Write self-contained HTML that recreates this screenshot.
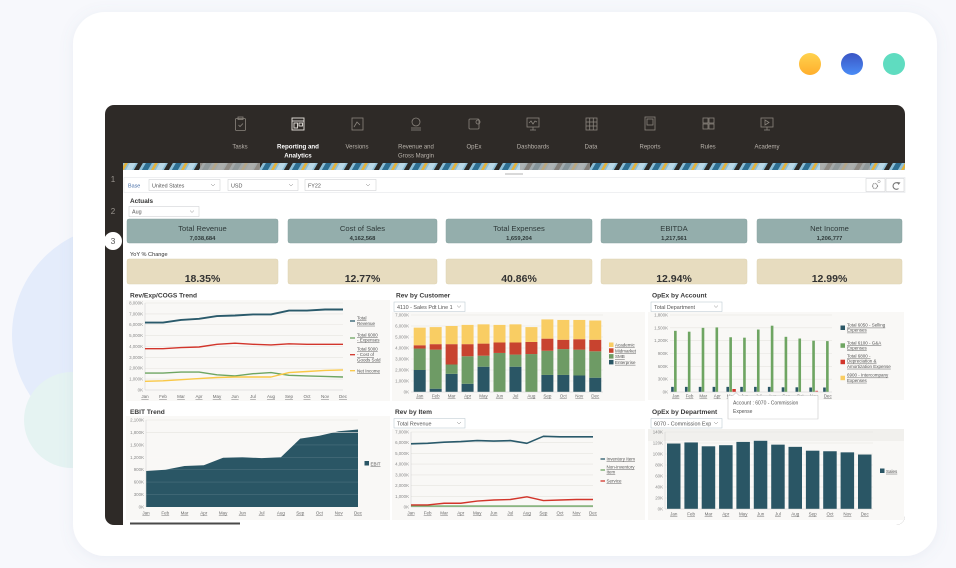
<!DOCTYPE html>
<html><head><meta charset="utf-8"><style>
html,body{margin:0;padding:0;background:#f7f8fc;width:956px;height:568px;overflow:hidden}
svg{display:block;font-family:"Liberation Sans",sans-serif}
.nav{font-size:6px;fill:#b9b3ac;text-anchor:middle}
.navb{font-size:6.2px;fill:#ffffff;font-weight:bold;text-anchor:middle}
.ax{font-size:4.4px;fill:#8a8a8a;text-anchor:end}
.mx{font-size:4.5px;fill:#6a6a6a;text-anchor:middle;text-decoration:underline}
.lg{font-size:4.5px;fill:#555;text-decoration:underline}
.ttl{font-size:6.6px;fill:#3a3a3a;font-weight:bold}
.kt{font-size:7.6px;fill:#2f3a3a;text-anchor:middle}
.kv{font-size:5.8px;fill:#2f3a3a;text-anchor:middle;font-weight:bold}
.kp{font-size:10.5px;fill:#333;text-anchor:middle;font-weight:bold}
.sel{font-size:5.4px;fill:#555}
.grid line{stroke:#e6e4e0;stroke-width:0.6}
</style></head><body>
<svg width="956" height="568" viewBox="0 0 956 568" xmlns="http://www.w3.org/2000/svg">
<defs>
<filter id="sh" x="-10%" y="-10%" width="120%" height="120%"><feDropShadow dx="0" dy="2" stdDeviation="7" flood-color="#7080a8" flood-opacity="0.10"/></filter>
<clipPath id="win"><rect x="105" y="105" width="800" height="420" rx="9"/></clipPath>
<pattern id="strip" width="30" height="8" patternUnits="userSpaceOnUse" patternTransform="skewX(-30)">
<rect width="30" height="8" fill="#8fbfd6"/>
<rect x="0" width="6" height="8" fill="#2f6f92"/>
<rect x="9" width="3" height="8" fill="#e3b23c"/>
<rect x="14" width="6" height="8" fill="#b9d8e6"/>
<rect x="22" width="5" height="8" fill="#2d2a27"/>
</pattern>
<linearGradient id="gy" x1="0" y1="0" x2="0" y2="1"><stop offset="0" stop-color="#ffd24e"/><stop offset="1" stop-color="#ffae2c"/></linearGradient>
<linearGradient id="gb" x1="0" y1="0" x2="0" y2="1"><stop offset="0" stop-color="#3a55c4"/><stop offset="1" stop-color="#4a8cf6"/></linearGradient>
</defs>

<rect width="956" height="568" fill="#f7f8fc"/>
<circle cx="122" cy="335" r="110" fill="#e4ecfb"/>
<circle cx="72" cy="420" r="48" fill="#e5f3f2"/>
<rect x="73" y="12" width="864" height="544" rx="32" fill="#ffffff" filter="url(#sh)"/>

<circle cx="810" cy="64" r="11" fill="url(#gy)"/>
<circle cx="852" cy="64" r="11" fill="url(#gb)"/>
<circle cx="894" cy="64" r="11" fill="#5fdcc0"/>

<g clip-path="url(#win)">
<rect x="105" y="105" width="800" height="420" fill="#2e2a27"/>
<rect x="123" y="163" width="782" height="7" fill="url(#strip)"/>
<rect x="200" y="163" width="60" height="7" fill="#a9a49e" opacity="0.8"/>
<rect x="520" y="163" width="70" height="7" fill="#a9a49e" opacity="0.7"/>
<rect x="820" y="163" width="50" height="7" fill="#a9a49e" opacity="0.8"/>
<rect x="123" y="170" width="782" height="355" fill="#ffffff"/>
</g>

<!-- nav icons -->
<g fill="none" stroke="#8b857e" stroke-width="0.8">
<rect x="235.5" y="118.5" width="10" height="12" rx="1"/><rect x="238" y="117" width="5" height="2.5"/><polyline points="238.5,125 240,126.5 243,123.5"/>
<rect x="352" y="118" width="11" height="12"/><polyline points="354,127 357,122 360,125"/>
<circle cx="416" cy="122" r="4"/><line x1="411" y1="128" x2="421" y2="128"/><line x1="411" y1="130" x2="421" y2="130"/>
<rect x="469" y="119" width="10" height="10" rx="1"/><circle cx="478" cy="122" r="2"/>
<rect x="527" y="118" width="12" height="9"/><line x1="533" y1="127" x2="533" y2="130"/><line x1="530" y1="130" x2="536" y2="130"/><polyline points="529,123 531,121 533,124 535,121 537,122"/>
<rect x="586" y="118" width="11" height="12"/><line x1="586" y1="122" x2="597" y2="122"/><line x1="586" y1="126" x2="597" y2="126"/><line x1="589.7" y1="118" x2="589.7" y2="130"/><line x1="593.3" y1="118" x2="593.3" y2="130"/>
<rect x="645" y="117" width="10" height="13"/><rect x="647" y="119" width="6" height="6"/>
<rect x="703" y="118" width="5" height="5"/><rect x="709" y="118" width="5" height="5"/><rect x="703" y="124" width="5" height="5"/><rect x="709" y="124" width="5" height="5"/>
<rect x="761" y="118" width="12" height="9"/><line x1="767" y1="127" x2="767" y2="130"/><line x1="764" y1="130" x2="770" y2="130"/><polygon points="765,120 765,125 769,122.5"/>
</g>
<g fill="none" stroke="#e8e4df" stroke-width="0.9">
<rect x="292" y="118" width="12" height="12"/><line x1="292" y1="121" x2="304" y2="121"/><rect x="294" y="123" width="3.5" height="5"/><rect x="299" y="123" width="3.5" height="3"/>
</g>
<text class="nav" x="240" y="148.5">Tasks</text>
<text class="navb" x="298" y="148.5">Reporting and</text>
<text class="navb" x="298" y="157.5">Analytics</text>
<text class="nav" x="357" y="148.5">Versions</text>
<text class="nav" x="416" y="148.5">Revenue and</text>
<text class="nav" x="416" y="157.5">Gross Margin</text>
<text class="nav" x="474" y="148.5">OpEx</text>
<text class="nav" x="533" y="148.5">Dashboards</text>
<text class="nav" x="591" y="148.5">Data</text>
<text class="nav" x="650" y="148.5">Reports</text>
<text class="nav" x="708" y="148.5">Rules</text>
<text class="nav" x="767" y="148.5">Academy</text>

<!-- sidebar numbers -->
<text x="113" y="182" font-size="8" fill="#9a958f" text-anchor="middle">1</text>
<text x="113" y="214" font-size="8" fill="#9a958f" text-anchor="middle">2</text>
<circle cx="113" cy="241" r="9" fill="#ffffff"/>
<text x="113" y="244" font-size="8.5" fill="#555" text-anchor="middle">3</text>

<!-- handle -->
<line x1="505" y1="174" x2="523" y2="174" stroke="#9a9a9a" stroke-width="0.8"/>

<!-- filter row -->
<rect x="124" y="177.5" width="781" height="15" fill="#ffffff" stroke="#e4e6ea" stroke-width="0.6"/>
<text x="128" y="187.5" font-size="5.4" fill="#4a70a8">Base</text>
<g fill="#fff" stroke="#c8cacd" stroke-width="0.5">
<rect x="149" y="179.5" width="71" height="11"/><rect x="228" y="179.5" width="70" height="11"/><rect x="305" y="179.5" width="71" height="11"/>
<rect x="866" y="178.5" width="19" height="13"/><rect x="886" y="178.5" width="18" height="13"/>
<rect x="129" y="206.5" width="70" height="10"/>
</g>
<text class="sel" x="152" y="187.3">United States</text>
<text class="sel" x="231" y="187.3">USD</text>
<text class="sel" x="308" y="187.3">FY22</text>
<text class="sel" x="132" y="213.5">Aug</text>
<g fill="none" stroke="#888" stroke-width="0.5">
<polyline points="211,184 213,186 215,184"/><polyline points="289,184 291,186 293,184"/><polyline points="366,184 368,186 370,184"/><polyline points="190,210.5 192,212.5 194,210.5"/>
</g>
<circle cx="875" cy="186" r="2.5" fill="none" stroke="#888" stroke-width="1.2" stroke-dasharray="1 0.6"/>
<circle cx="879" cy="181.5" r="1.2" fill="none" stroke="#888" stroke-width="0.5"/>
<path d="M898.5,183.5 A3.3,3.3 0 1 0 898.5,188.5" fill="none" stroke="#777" stroke-width="1.1"/>
<polygon points="897,182 900.5,182.5 898.5,185" fill="#777"/>

<text x="130" y="203" font-size="6.4" font-weight="bold" fill="#333">Actuals</text>

<!-- KPI boxes -->
<g fill="#94aeac" stroke="#89a3a1" stroke-width="0.5">
<rect x="127" y="219" width="151" height="24" rx="2"/>
<rect x="288" y="219" width="149" height="24" rx="2"/>
<rect x="446" y="219" width="146" height="24" rx="2"/>
<rect x="601" y="219" width="146" height="24" rx="2"/>
<rect x="757" y="219" width="145" height="24" rx="2"/>
</g>
<text class="kt" x="202.5" y="231">Total Revenue</text><text class="kv" x="202.5" y="240">7,038,684</text>
<text class="kt" x="362.5" y="231">Cost of Sales</text><text class="kv" x="362.5" y="240">4,162,568</text>
<text class="kt" x="519" y="231">Total Expenses</text><text class="kv" x="519" y="240">1,659,204</text>
<text class="kt" x="674" y="231">EBITDA</text><text class="kv" x="674" y="240">1,217,561</text>
<text class="kt" x="829.5" y="231">Net Income</text><text class="kv" x="829.5" y="240">1,206,777</text>

<text x="130" y="256" font-size="5.6" fill="#333">YoY % Change</text>
<g fill="#e7dcbf" stroke="#ded2b3" stroke-width="0.5">
<rect x="127" y="259" width="151" height="25" rx="2"/>
<rect x="288" y="259" width="149" height="25" rx="2"/>
<rect x="446" y="259" width="146" height="25" rx="2"/>
<rect x="601" y="259" width="146" height="25" rx="2"/>
<rect x="757" y="259" width="145" height="25" rx="2"/>
</g>
<text class="kp" x="202.5" y="282">18.35%</text>
<text class="kp" x="362.5" y="282">12.77%</text>
<text class="kp" x="519" y="282">40.86%</text>
<text class="kp" x="674" y="282">12.94%</text>
<text class="kp" x="829.5" y="282">12.99%</text>

<!-- chart backgrounds -->
<g fill="#f9f8f6">
<rect x="126" y="300" width="264" height="101"/>
<rect x="392" y="312" width="253" height="89"/>
<rect x="648" y="312" width="256" height="88"/>
<rect x="126" y="416" width="264" height="104"/>
<rect x="392" y="429" width="253" height="91"/>
<rect x="648" y="429" width="256" height="91"/>
</g>

<!-- titles -->
<text class="ttl" x="130" y="297.5">Rev/Exp/COGS Trend</text>
<text class="ttl" x="396" y="297.5">Rev by Customer</text>
<text class="ttl" x="652" y="297.5">OpEx by Account</text>
<text class="ttl" x="130" y="414">EBIT Trend</text>
<text class="ttl" x="395" y="414">Rev by Item</text>
<text class="ttl" x="652" y="414">OpEx by Department</text>

<!-- chart dropdowns -->
<g fill="#fff" stroke="#b5c3cc" stroke-width="0.5">
<rect x="394" y="302" width="71" height="9.5"/><rect x="651" y="302" width="71" height="9.5"/>
<rect x="394" y="418.5" width="71" height="9.5"/><rect x="651" y="418.5" width="71" height="9.5"/>
</g>
<text class="sel" x="397" y="308.8" font-size="4.8">4110 - Sales Pdt Line 1</text>
<text class="sel" x="654" y="308.8" font-size="4.8">Total Department</text>
<text class="sel" x="397" y="425.3" font-size="4.8">Total Revenue</text>
<text class="sel" x="654" y="425.3" font-size="4.8">6070 - Commission Exp</text>
<g fill="none" stroke="#888" stroke-width="0.5">
<polyline points="457,305.5 459,307.5 461,305.5"/><polyline points="714,305.5 716,307.5 718,305.5"/>
<polyline points="457,422 459,424 461,422"/><polyline points="714,422 716,424 718,422"/>
</g>

<!-- ===== Chart 1: Rev/Exp/COGS ===== -->
<g class="grid">
<line x1="145" y1="379.1" x2="343" y2="379.1"/><line x1="145" y1="368.25" x2="343" y2="368.25"/><line x1="145" y1="357.4" x2="343" y2="357.4"/><line x1="145" y1="346.5" x2="343" y2="346.5"/><line x1="145" y1="335.6" x2="343" y2="335.6"/><line x1="145" y1="324.75" x2="343" y2="324.75"/><line x1="145" y1="313.9" x2="343" y2="313.9"/><line x1="145" y1="303" x2="343" y2="303"/>
</g>
<line x1="145" y1="303" x2="145" y2="390" stroke="#ccc" stroke-width="0.5"/>
<line x1="145" y1="390" x2="343" y2="390" stroke="#ccc" stroke-width="0.5"/>
<g class="ax">
<text x="143" y="391.5">0K</text><text x="143" y="380.6">1,000K</text><text x="143" y="369.7">2,000K</text><text x="143" y="358.9">3,000K</text><text x="143" y="348">4,000K</text><text x="143" y="337.1">5,000K</text><text x="143" y="326.2">6,000K</text><text x="143" y="315.4">7,000K</text><text x="143" y="304.5">8,000K</text>
</g>
<g fill="none" stroke-linejoin="round">
<polyline stroke="#2a5a6b" stroke-width="1.9" points="145,322.6 163,322.6 181,319.9 199,318.8 217,316.05 235,315.5 253,314.4 271,314.4 289,310.6 307,310.6 325,309.5 343,309.5"/>
<polyline stroke="#d2352b" stroke-width="1.4" points="145,348.7 163,348.7 181,347.6 199,347 217,344.3 235,343.2 253,344.3 271,344.9 289,343.8 307,344.3 325,344.3 343,344.3"/>
<polyline stroke="#6ea562" stroke-width="1.4" points="145,373.1 163,373.1 181,372.1 199,372.1 217,374.8 235,375.9 253,373.7 271,372.6 289,375.3 307,375.9 325,376.4 343,377"/>
<polyline stroke="#f9c846" stroke-width="1.4" points="145,381.3 163,380.8 181,379.7 199,378.6 217,377.5 235,377 253,377 271,377 289,372.6 307,371.5 325,370.4 343,369.9"/>
</g>
<g class="mx">
<text x="145" y="398">Jan</text><text x="163" y="398">Feb</text><text x="181" y="398">Mar</text><text x="199" y="398">Apr</text><text x="217" y="398">May</text><text x="235" y="398">Jun</text><text x="253" y="398">Jul</text><text x="271" y="398">Aug</text><text x="289" y="398">Sep</text><text x="307" y="398">Oct</text><text x="325" y="398">Nov</text><text x="343" y="398">Dec</text>
</g>
<g stroke-width="1.3">
<line x1="350" y1="321" x2="355" y2="321" stroke="#2a5a6b"/>
<line x1="350" y1="338" x2="355" y2="338" stroke="#6ea562"/>
<line x1="350" y1="354.7" x2="355" y2="354.7" stroke="#d2352b"/>
<line x1="350" y1="370.7" x2="355" y2="370.7" stroke="#f9c846"/>
</g>
<g class="lg">
<text x="357" y="319.5">Total</text><text x="357" y="324.8">Revenue</text>
<text x="357" y="336.3">Total 6000</text><text x="357" y="341.5">- Expenses</text>
<text x="357" y="350.5">Total 5000</text><text x="357" y="356">- Cost of</text><text x="357" y="361.5">Goods Sold</text>
<text x="357" y="372.3">Net Income</text>
</g>

<!-- ===== Chart 2: Rev by Customer ===== -->
<g class="grid">
<line x1="411" y1="381" x2="603" y2="381"/><line x1="411" y1="370" x2="603" y2="370"/><line x1="411" y1="359" x2="603" y2="359"/><line x1="411" y1="348" x2="603" y2="348"/><line x1="411" y1="337" x2="603" y2="337"/><line x1="411" y1="326" x2="603" y2="326"/><line x1="411" y1="315" x2="603" y2="315"/>
</g>
<g class="ax">
<text x="409" y="393.5">0K</text><text x="409" y="382.5">1,000K</text><text x="409" y="371.5">2,000K</text><text x="409" y="360.5">3,000K</text><text x="409" y="349.5">4,000K</text><text x="409" y="338.5">5,000K</text><text x="409" y="327.5">6,000K</text><text x="409" y="316.5">7,000K</text>
</g>
<g transform="translate(419.7,392) scale(15.96,-0.011)">
<g fill="#2a5665">
<rect x="-0.376" y="0" width="0.752" height="2000"/><rect x="0.624" y="0" width="0.752" height="300"/><rect x="1.624" y="0" width="0.752" height="1650"/><rect x="2.624" y="0" width="0.752" height="750"/><rect x="3.624" y="0" width="0.752" height="2300"/><rect x="5.624" y="0" width="0.752" height="2300"/><rect x="7.624" y="0" width="0.752" height="1550"/><rect x="8.624" y="0" width="0.752" height="1550"/><rect x="9.624" y="0" width="0.752" height="1500"/><rect x="10.624" y="0" width="0.752" height="1300"/>
</g>
<g fill="#6e9b65">
<rect x="-0.376" y="2000" width="0.752" height="1950"/><rect x="0.624" y="300" width="0.752" height="3550"/><rect x="1.624" y="1650" width="0.752" height="850"/><rect x="2.624" y="750" width="0.752" height="2500"/><rect x="3.624" y="2300" width="0.752" height="1000"/><rect x="4.624" y="0" width="0.752" height="3550"/><rect x="5.624" y="2300" width="0.752" height="1100"/><rect x="6.624" y="0" width="0.752" height="3450"/><rect x="7.624" y="1550" width="0.752" height="2200"/><rect x="8.624" y="1550" width="0.752" height="2350"/><rect x="9.624" y="1500" width="0.752" height="2350"/><rect x="10.624" y="1300" width="0.752" height="2400"/>
</g>
<g fill="#c8432f">
<rect x="-0.376" y="3950" width="0.752" height="300"/><rect x="0.624" y="3850" width="0.752" height="500"/><rect x="1.624" y="2500" width="0.752" height="1850"/><rect x="2.624" y="3250" width="0.752" height="1100"/><rect x="3.624" y="3300" width="0.752" height="1100"/><rect x="4.624" y="3550" width="0.752" height="950"/><rect x="5.624" y="3400" width="0.752" height="1100"/><rect x="6.624" y="3450" width="0.752" height="1100"/><rect x="7.624" y="3750" width="0.752" height="1100"/><rect x="8.624" y="3900" width="0.752" height="850"/><rect x="9.624" y="3850" width="0.752" height="950"/><rect x="10.624" y="3700" width="0.752" height="1050"/>
</g>
<g fill="#f9cd63">
<rect x="-0.376" y="4250" width="0.752" height="1600"/><rect x="0.624" y="4350" width="0.752" height="1550"/><rect x="1.624" y="4350" width="0.752" height="1650"/><rect x="2.624" y="4350" width="0.752" height="1750"/><rect x="3.624" y="4400" width="0.752" height="1750"/><rect x="4.624" y="4500" width="0.752" height="1600"/><rect x="5.624" y="4500" width="0.752" height="1650"/><rect x="6.624" y="4550" width="0.752" height="1350"/><rect x="7.624" y="4850" width="0.752" height="1750"/><rect x="8.624" y="4750" width="0.752" height="1800"/><rect x="9.624" y="4800" width="0.752" height="1750"/><rect x="10.624" y="4750" width="0.752" height="1750"/>
</g>
</g>
<line x1="411" y1="392" x2="603" y2="392" stroke="#ccc" stroke-width="0.5"/>
<g class="mx">
<text x="419.7" y="397.5">Jan</text><text x="435.7" y="397.5">Feb</text><text x="451.6" y="397.5">Mar</text><text x="467.6" y="397.5">Apr</text><text x="483.5" y="397.5">May</text><text x="499.5" y="397.5">Jun</text><text x="515.5" y="397.5">Jul</text><text x="531.4" y="397.5">Aug</text><text x="547.4" y="397.5">Sep</text><text x="563.3" y="397.5">Oct</text><text x="579.3" y="397.5">Nov</text><text x="595.3" y="397.5">Dec</text>
</g>
<rect x="609" y="342.5" width="4.5" height="4.5" fill="#f9cd63"/>
<rect x="609" y="348.3" width="4.5" height="4.5" fill="#c8432f"/>
<rect x="609" y="354.1" width="4.5" height="4.5" fill="#6e9b65"/>
<rect x="609" y="359.9" width="4.5" height="4.5" fill="#2a5665"/>
<g class="lg">
<text x="615" y="346.5">Academic</text><text x="615" y="352.3">Midmarket</text><text x="615" y="358.1">SMB</text><text x="615" y="363.9">Enterprise</text>
</g>

<!-- ===== Chart 3: OpEx by Account ===== -->
<g class="grid">
<line x1="670" y1="379.2" x2="832" y2="379.2"/><line x1="670" y1="366.3" x2="832" y2="366.3"/><line x1="670" y1="353.5" x2="832" y2="353.5"/><line x1="670" y1="340.7" x2="832" y2="340.7"/><line x1="670" y1="327.8" x2="832" y2="327.8"/><line x1="670" y1="315" x2="832" y2="315"/>
</g>
<g class="ax">
<text x="668" y="393.5">0K</text><text x="668" y="380.7">300K</text><text x="668" y="367.8">600K</text><text x="668" y="355">900K</text><text x="668" y="342.2">1,200K</text><text x="668" y="329.3">1,500K</text><text x="668" y="316.5">1,800K</text>
</g>
<g transform="translate(675.7,392) scale(13.82,-0.04278)">
<g fill="#2a5665">
<rect x="-0.33" y="0" width="0.19" height="120"/><rect x="0.67" y="0" width="0.19" height="120"/><rect x="1.67" y="0" width="0.19" height="120"/><rect x="2.67" y="0" width="0.19" height="120"/><rect x="3.67" y="0" width="0.19" height="120"/><rect x="4.67" y="0" width="0.19" height="120"/><rect x="5.67" y="0" width="0.19" height="120"/><rect x="6.67" y="0" width="0.19" height="120"/><rect x="7.67" y="0" width="0.19" height="110"/><rect x="8.67" y="0" width="0.19" height="110"/><rect x="9.67" y="0" width="0.19" height="105"/><rect x="10.67" y="0" width="0.19" height="105"/>
</g>
<g fill="#6ea562">
<rect x="-0.12" y="0" width="0.19" height="1430"/><rect x="0.88" y="0" width="0.19" height="1410"/><rect x="1.88" y="0" width="0.19" height="1500"/><rect x="2.88" y="0" width="0.19" height="1510"/><rect x="3.88" y="0" width="0.19" height="1280"/><rect x="4.88" y="0" width="0.19" height="1270"/><rect x="5.88" y="0" width="0.19" height="1460"/><rect x="6.88" y="0" width="0.19" height="1550"/><rect x="7.88" y="0" width="0.19" height="1290"/><rect x="8.88" y="0" width="0.19" height="1250"/><rect x="9.88" y="0" width="0.19" height="1200"/><rect x="10.88" y="0" width="0.19" height="1190"/>
</g>
<rect x="4.1" y="0" width="0.25" height="70" fill="#d2352b"/>
<rect x="10.1" y="0" width="0.2" height="30" fill="#e07070"/>
</g>
<line x1="670" y1="392" x2="832" y2="392" stroke="#ccc" stroke-width="0.5"/>
<g class="mx">
<text x="675.7" y="397.5">Jan</text><text x="689.5" y="397.5">Feb</text><text x="703.3" y="397.5">Mar</text><text x="717.2" y="397.5">Apr</text><text x="731" y="397.5">May</text><text x="744.8" y="397.5">Jun</text><text x="758.6" y="397.5">Jul</text><text x="772.4" y="397.5">Aug</text><text x="786.3" y="397.5">Sep</text><text x="800.1" y="397.5">Oct</text><text x="813.9" y="397.5">Nov</text><text x="827.7" y="397.5">Dec</text>
</g>
<rect x="840.5" y="325.5" width="4.5" height="4.5" fill="#2a5665"/>
<rect x="840.5" y="343.3" width="4.5" height="4.5" fill="#6ea562"/>
<rect x="840.5" y="359.7" width="4.5" height="4.5" fill="#d2352b"/>
<rect x="840.5" y="375.7" width="4.5" height="4.5" fill="#f9cd63"/>
<g class="lg">
<text x="847" y="326.7">Total 6050 - Selling</text><text x="847" y="331.7">Expenses</text>
<text x="847" y="344.3">Total 6100 - G&amp;A</text><text x="847" y="349.3">Expenses</text>
<text x="847" y="357.6">Total 6800 -</text><text x="847" y="362.6">Depreciation &amp;</text><text x="847" y="367.8">Amortization Expense</text>
<text x="847" y="376.6">6900 - Intercompany</text><text x="847" y="381.8">Expenses</text>
</g>

<!-- ===== Chart 4: EBIT Trend ===== -->
<polygon fill="#2a5665" points="146,507 146,471 165.3,469.7 184.5,466 203.8,465.2 223.1,457.7 242.4,457.3 261.6,458.1 280.9,457.3 300.2,438.6 319.4,435.7 338.7,431.2 358,429.5 358,507"/>
<g stroke="#ffffff" stroke-opacity="0.16" stroke-width="0.6">
<line x1="146" y1="494.6" x2="358" y2="494.6"/><line x1="146" y1="482.1" x2="358" y2="482.1"/><line x1="146" y1="469.7" x2="358" y2="469.7"/><line x1="146" y1="457.3" x2="358" y2="457.3"/><line x1="146" y1="444.9" x2="358" y2="444.9"/><line x1="146" y1="432.4" x2="358" y2="432.4"/>
</g>
<g class="grid"><line x1="146" y1="432.4" x2="358" y2="432.4"/><line x1="146" y1="420" x2="358" y2="420"/></g>
<line x1="146" y1="420" x2="146" y2="507" stroke="#ccc" stroke-width="0.5"/>
<g class="ax">
<text x="144" y="508.5">0K</text><text x="144" y="496.1">300K</text><text x="144" y="483.6">600K</text><text x="144" y="471.2">900K</text><text x="144" y="458.8">1,200K</text><text x="144" y="446.4">1,500K</text><text x="144" y="433.9">1,800K</text><text x="144" y="421.5">2,100K</text>
</g>
<g class="mx">
<text x="146" y="514.5">Jan</text><text x="165.3" y="514.5">Feb</text><text x="184.5" y="514.5">Mar</text><text x="203.8" y="514.5">Apr</text><text x="223.1" y="514.5">May</text><text x="242.4" y="514.5">Jun</text><text x="261.6" y="514.5">Jul</text><text x="280.9" y="514.5">Aug</text><text x="300.2" y="514.5">Sep</text><text x="319.4" y="514.5">Oct</text><text x="338.7" y="514.5">Nov</text><text x="358" y="514.5">Dec</text>
</g>
<rect x="364.5" y="461" width="4.5" height="4.5" fill="#2a5665"/>
<text class="lg" x="370.5" y="465.3">EBIT</text>
<rect x="130" y="522.5" width="110" height="2" fill="#4a4a4a"/>

<!-- ===== Chart 5: Rev by Item ===== -->
<g class="grid">
<line x1="411" y1="496.3" x2="593" y2="496.3"/><line x1="411" y1="485.6" x2="593" y2="485.6"/><line x1="411" y1="474.9" x2="593" y2="474.9"/><line x1="411" y1="464.1" x2="593" y2="464.1"/><line x1="411" y1="453.4" x2="593" y2="453.4"/><line x1="411" y1="442.7" x2="593" y2="442.7"/><line x1="411" y1="432" x2="593" y2="432"/>
</g>
<line x1="411" y1="432" x2="411" y2="507" stroke="#ccc" stroke-width="0.5"/>
<line x1="411" y1="507" x2="593" y2="507" stroke="#ccc" stroke-width="0.5"/>
<g class="ax">
<text x="409" y="508.5">0K</text><text x="409" y="497.8">1,000K</text><text x="409" y="487.1">2,000K</text><text x="409" y="476.4">3,000K</text><text x="409" y="465.6">4,000K</text><text x="409" y="454.9">5,000K</text><text x="409" y="444.2">6,000K</text><text x="409" y="433.5">7,000K</text>
</g>
<g fill="none" stroke-linejoin="round">
<polyline stroke="#2a5a6b" stroke-width="1.6" points="411,443.8 427.6,443.3 444.1,442.2 460.7,441.6 477.2,440.6 493.8,441.1 510.3,440.6 526.9,443.3 543.4,436.3 560,436.8 576.5,436.8 593,436.8"/>
<polyline stroke="#6ea562" stroke-width="1.4" points="411,506.1 593,506.1"/>
<polyline stroke="#d2352b" stroke-width="1.4" points="411,504.9 427.6,504.9 444.1,503.25 460.7,503.25 477.2,501.1 493.8,500 510.3,499.5 526.9,496.8 543.4,500.6 560,500 576.5,499.5 593,499.5"/>
</g>
<g class="mx">
<text x="411" y="514.5">Jan</text><text x="427.6" y="514.5">Feb</text><text x="444.1" y="514.5">Mar</text><text x="460.7" y="514.5">Apr</text><text x="477.2" y="514.5">May</text><text x="493.8" y="514.5">Jun</text><text x="510.3" y="514.5">Jul</text><text x="526.9" y="514.5">Aug</text><text x="543.4" y="514.5">Sep</text><text x="560" y="514.5">Oct</text><text x="576.5" y="514.5">Nov</text><text x="593" y="514.5">Dec</text>
</g>
<g stroke-width="1.3">
<line x1="600.5" y1="459" x2="605" y2="459" stroke="#2a5a6b"/>
<line x1="600.5" y1="470" x2="605" y2="470" stroke="#6ea562"/>
<line x1="600.5" y1="481" x2="605" y2="481" stroke="#d2352b"/>
</g>
<g class="lg">
<text x="606.5" y="460.5">Inventory Item</text>
<text x="606.5" y="468.3">Non-inventory</text><text x="606.5" y="473.5">Item</text>
<text x="606.5" y="482.5">Service</text>
</g>

<!-- ===== Chart 6: OpEx by Department ===== -->
<rect x="648" y="429" width="256" height="12" fill="#f1f0ed"/>
<g class="grid">
<line x1="665" y1="498" x2="873" y2="498"/><line x1="665" y1="487" x2="873" y2="487"/><line x1="665" y1="476" x2="873" y2="476"/><line x1="665" y1="465" x2="873" y2="465"/><line x1="665" y1="454" x2="873" y2="454"/><line x1="665" y1="443" x2="873" y2="443"/><line x1="665" y1="432" x2="873" y2="432"/>
</g>
<line x1="665" y1="432" x2="665" y2="509" stroke="#ccc" stroke-width="0.5"/>
<g class="ax">
<text x="663" y="510.5">0K</text><text x="663" y="499.5">20K</text><text x="663" y="488.5">40K</text><text x="663" y="477.5">60K</text><text x="663" y="466.5">80K</text><text x="663" y="455.5">100K</text><text x="663" y="444.5">120K</text><text x="663" y="433.5">140K</text>
</g>
<g fill="#2a5665">
<rect x="667" y="443.55" width="13.5" height="65.45"/><rect x="684.4" y="442.45" width="13.5" height="66.55"/><rect x="701.7" y="446.3" width="13.5" height="62.7"/><rect x="719.1" y="445.2" width="13.5" height="63.8"/><rect x="736.4" y="441.9" width="13.5" height="67.1"/><rect x="753.8" y="440.8" width="13.5" height="68.2"/><rect x="771.2" y="444.65" width="13.5" height="64.35"/><rect x="788.5" y="446.85" width="13.5" height="62.15"/><rect x="805.9" y="450.7" width="13.5" height="58.3"/><rect x="823.2" y="451.25" width="13.5" height="57.75"/><rect x="840.6" y="452.35" width="13.5" height="56.65"/><rect x="858" y="454.55" width="13.5" height="54.45"/>
</g>
<line x1="665" y1="509" x2="873" y2="509" stroke="#ccc" stroke-width="0.5"/>
<g class="mx">
<text x="673.75" y="515.5">Jan</text><text x="691.1" y="515.5">Feb</text><text x="708.5" y="515.5">Mar</text><text x="725.8" y="515.5">Apr</text><text x="743.2" y="515.5">May</text><text x="760.6" y="515.5">Jun</text><text x="777.9" y="515.5">Jul</text><text x="795.3" y="515.5">Aug</text><text x="812.6" y="515.5">Sep</text><text x="830" y="515.5">Oct</text><text x="847.4" y="515.5">Nov</text><text x="864.7" y="515.5">Dec</text>
</g>
<rect x="880" y="468.5" width="4.5" height="4.5" fill="#2a5665"/>
<text class="lg" x="886" y="472.8">Sales</text>

<!-- tooltip -->
<path d="M728,395.5 L733,395.5 L736,392.5 L739,395.5 L818,395.5 L818,419 L728,419 Z" fill="#ffffff" stroke="#c9c9c9" stroke-width="0.6"/>
<text x="733" y="404.5" font-size="5" fill="#555">Account : 6070 - Commission</text>
<text x="733" y="413" font-size="5" fill="#555">Expense</text>
</svg>
</body></html>
